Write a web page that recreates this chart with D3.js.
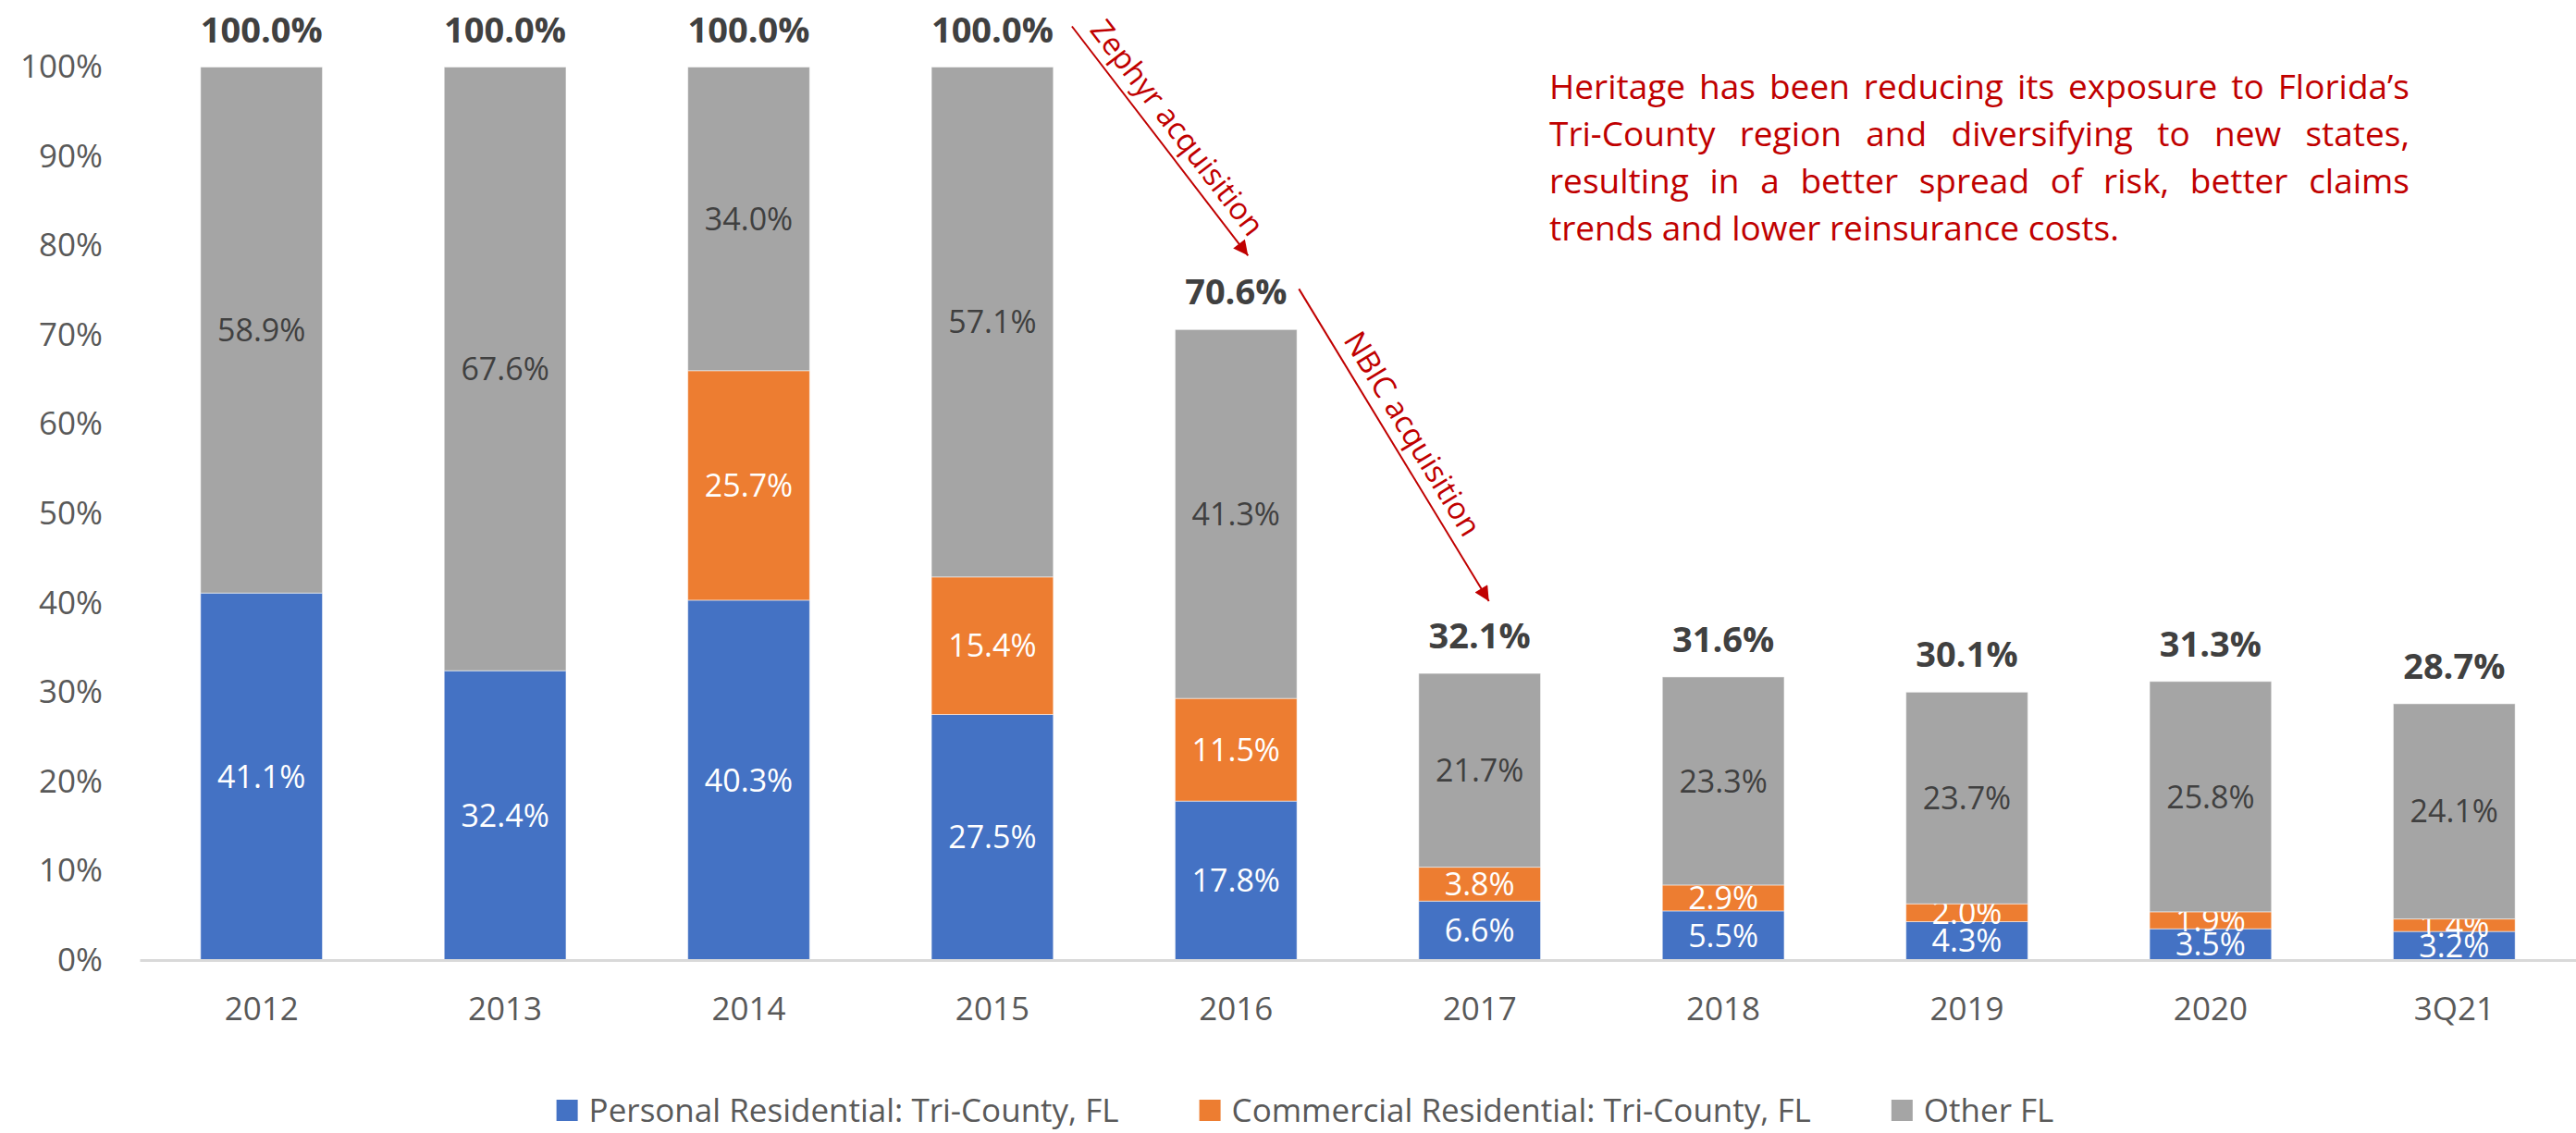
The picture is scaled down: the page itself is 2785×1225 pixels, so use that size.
<!DOCTYPE html>
<html>
<head>
<meta charset="utf-8">
<script src="https://cdn.jsdelivr.net/npm/d3@7"></script>
<style>
  body { margin: 0; background: #ffffff; }
  text { font-family: "Open Sans", "Noto Sans", sans-serif; }
</style>
</head>
<body>
<div id="main_bar_chart"></div>
<script>
// chart data (share of policies, %)
var categories = ["2012", "2013", "2014", "2015", "2016", "2017", "2018", "2019", "2020", "3Q21"];
var personal   = [41.1, 32.4, 40.3, 27.5, 17.8, 6.6, 5.5, 4.3, 3.5, 3.2];
var commercial = [0, 0, 25.7, 15.4, 11.5, 3.8, 2.9, 2.0, 1.9, 1.4];
var otherFL    = [58.9, 67.6, 34.0, 57.1, 41.3, 21.7, 23.3, 23.7, 25.8, 24.1];
var totals     = [100.0, 100.0, 100.0, 100.0, 70.6, 32.1, 31.6, 30.1, 31.3, 28.7];
var yTicks     = [0, 10, 20, 30, 40, 50, 60, 70, 80, 90, 100];
var seriesNames = ["Personal Residential: Tri-County, FL", "Commercial Residential: Tri-County, FL", "Other FL"];
var noteLines = [
  "Heritage has been reducing its exposure to Florida\u2019s",
  "Tri-County region and diversifying to new states,",
  "resulting in a better spread of risk, better claims",
  "trends and lower reinsurance costs."
];

var width = 2785, height = 1225;
var keys = ["personal", "commercial", "other"];
var colors = ["#4472C4", "#ED7D31", "#A5A5A5"];
var red = "#C00000";

// table for the stack layout
var data = categories.map(function(c, i) {
  return {cat: c, personal: personal[i], commercial: commercial[i], other: otherFL[i], total: totals[i]};
});

var svg = d3.select("#main_bar_chart")
  .append("svg")
    .attr("width", width)
    .attr("height", height);

// scales
var x = d3.scaleBand()
  .domain(categories)
  .range([151, 2785])
  .paddingInner(0.5)
  .paddingOuter(0.25);

var y = d3.scaleLinear()
  .domain([0, 100])
  .range([1038, 72.5]);

var color = d3.scaleOrdinal().domain(keys).range(colors);

// y axis (labels only)
svg.append("g")
  .attr("transform", "translate(151,0)")
  .call(d3.axisLeft(y).tickValues(yTicks).tickFormat(function(d) { return d + "%"; }).tickSize(0).tickPadding(40))
  .call(function(g) { g.select(".domain").remove(); })
  .selectAll("text")
    .style("font-size", "35px")
    .style("font-family", "'Open Sans', sans-serif")
    .attr("fill", "#595959");

// stacked bars
var stacked = d3.stack().keys(keys)(data);

var layers = svg.append("g")
  .selectAll("g")
  .data(stacked)
  .enter().append("g")
    .attr("fill", function(d) { return color(d.key); });

layers.selectAll("rect")
  .data(function(d) { return d; })
  .enter().append("rect")
    .attr("x", function(d) { return x(d.data.cat); })
    .attr("y", function(d) { return y(d[1]); })
    .attr("width", x.bandwidth())
    .attr("height", function(d) { return y(d[0]) - y(d[1]); })
    .attr("stroke", "#ffffff")
    .attr("stroke-opacity", 0.5)
    .attr("stroke-width", 1);

// x axis
var xAxis = svg.append("g")
  .attr("transform", "translate(0," + y(0) + ")")
  .call(d3.axisBottom(x).tickSize(0).tickPadding(40));
xAxis.select(".domain")
  .attr("stroke", "#D9D9D9")
  .attr("stroke-width", 3);
xAxis.selectAll("text")
  .style("font-size", "35px")
  .style("font-family", "'Open Sans', sans-serif")
  .attr("fill", "#595959");

// segment labels
layers.selectAll("text")
  .data(function(d) { return d.map(function(p) { p.key = d.key; return p; }); })
  .enter().filter(function(d) { return d[1] - d[0] > 0; })
  .append("text")
    .attr("x", function(d) { return x(d.data.cat) + x.bandwidth() / 2; })
    .attr("y", function(d) { return (y(d[0]) + y(d[1])) / 2; })
    .attr("dy", "0.36em")
    .attr("text-anchor", "middle")
    .style("font-size", "34px")
    .attr("fill", function(d) { return d.key == "other" ? "#404040" : "#ffffff"; })
    .text(function(d) { return (d[1] - d[0]).toFixed(1) + "%"; });

// total labels above bars
svg.append("g")
  .selectAll("text")
  .data(data)
  .enter().append("text")
    .attr("x", function(d) { return x(d.cat) + x.bandwidth() / 2; })
    .attr("y", function(d) { return y(d.personal + d.commercial + d.other) - 27; })
    .attr("text-anchor", "middle")
    .style("font-size", "38px")
    .style("font-weight", "bold")
    .attr("fill", "#404040")
    .text(function(d) { return d.total.toFixed(1) + "%"; });

// arrow head marker
svg.append("defs").append("marker")
  .attr("id", "arrow")
  .attr("viewBox", "0 0 10 10")
  .attr("refX", 10)
  .attr("refY", 5)
  .attr("markerWidth", 9)
  .attr("markerHeight", 8)
  .attr("markerUnits", "strokeWidth")
  .attr("orient", "auto")
  .append("path")
    .attr("d", "M0,0 L10,5 L0,10 z")
    .attr("fill", red);

// acquisition arrows, anchored to the total labels
var cx = function(c) { return x(c) + x.bandwidth() / 2; };
var arrows = [
  {label: "Zephyr acquisition", x1: cx("2015") + 86, y1: y(100) - 44, x2: cx("2016") + 13, y2: y(70.6) - 80},
  {label: "NBIC acquisition", x1: cx("2016") + 68, y1: y(70.6) - 44, x2: cx("2017") + 10, y2: y(32.1) - 78}
];

arrows.forEach(function(a) {
  svg.append("line")
    .attr("x1", a.x1).attr("y1", a.y1)
    .attr("x2", a.x2).attr("y2", a.y2)
    .attr("stroke", red)
    .attr("stroke-width", 2)
    .attr("marker-end", "url(#arrow)");

  var ang = Math.atan2(a.y2 - a.y1, a.x2 - a.x1);
  var mx = (a.x1 + a.x2) / 2, my = (a.y1 + a.y2) / 2;
  // text sits just above the line
  var off = 12;
  var tx = mx + Math.sin(ang) * off, ty = my - Math.cos(ang) * off;
  svg.append("text")
    .attr("transform", "translate(" + tx + "," + ty + ") rotate(" + (ang * 180 / Math.PI) + ")")
    .attr("text-anchor", "middle")
    .style("font-size", "33px")
    .attr("fill", red)
    .text(a.label);
});

// justified note text
var noteX = 1675, noteW = 930, noteY = 107, lineH = 51;
noteLines.forEach(function(line, i) {
  var words = line.split(" ");
  var g = svg.append("g");
  var nodes = words.map(function(w) {
    return g.append("text")
      .attr("y", noteY + i * lineH)
      .style("font-size", "37px")
      .attr("fill", red)
      .text(w);
  });
  var widths = nodes.map(function(n) { return n.node().getComputedTextLength(); });
  var sum = d3.sum(widths);
  var gap = (i < noteLines.length - 1) ? (noteW - sum) / (words.length - 1) : 37 * 0.26;
  var pos = noteX;
  nodes.forEach(function(n, j) {
    n.attr("x", pos);
    pos += widths[j] + gap;
  });
});

// legend
var legend = svg.append("g");
var lx = 0;
seriesNames.forEach(function(name, i) {
  var item = legend.append("g").attr("transform", "translate(" + lx + ",0)");
  item.append("rect")
    .attr("x", 0).attr("y", 1189)
    .attr("width", 23).attr("height", 23)
    .attr("fill", colors[i]);
  var t = item.append("text")
    .attr("x", 35).attr("y", 1213)
    .style("font-size", "35px")
    .attr("fill", "#595959")
    .text(name);
  lx += 35 + t.node().getComputedTextLength() + 87;
});
var legendW = lx - 87;
legend.attr("transform", "translate(" + (1411 - legendW / 2) + ",0)");
</script>
</body>
</html>
